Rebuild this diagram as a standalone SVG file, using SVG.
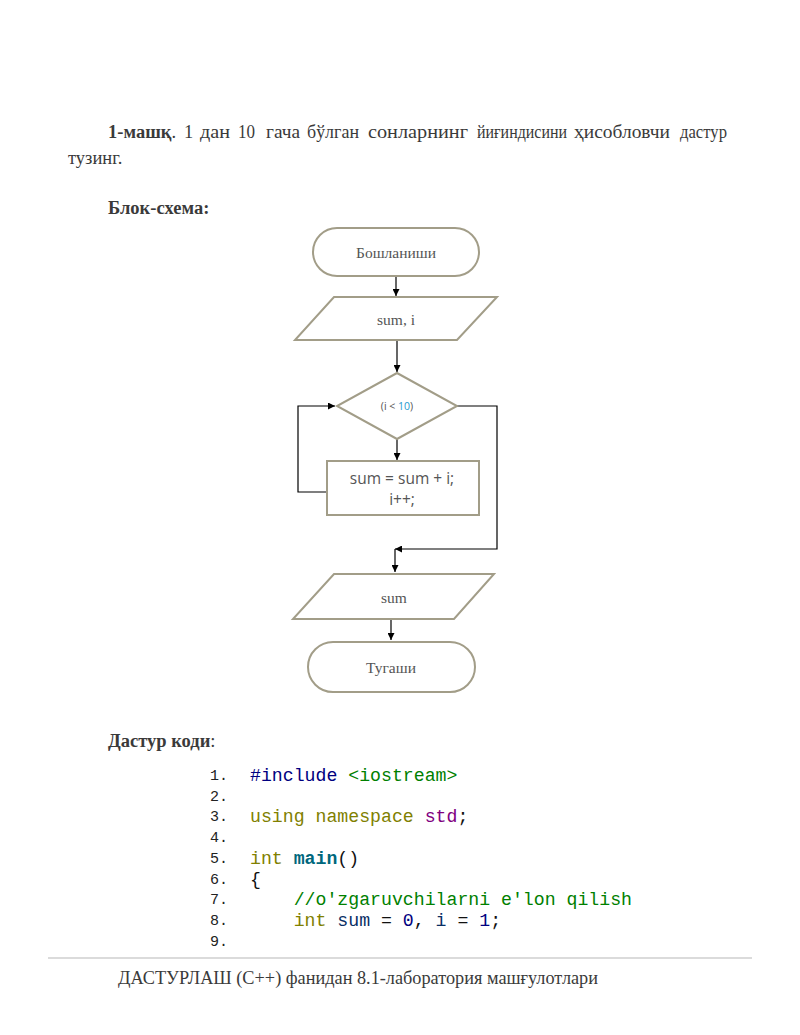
<svg xmlns="http://www.w3.org/2000/svg" width="800" height="1035" viewBox="0 0 800 1035">
<defs>
<marker id="ah" viewBox="0 0 10 10" refX="10" refY="5" markerWidth="7" markerHeight="7" markerUnits="userSpaceOnUse" orient="auto"><path d="M0,0 L10,5 L0,10 z" fill="#000"/></marker>
<style>
.body{font-family:"Liberation Serif","Times New Roman",serif;font-size:18.5px;fill:#3a3a3a}
.b{font-weight:bold}
.shape{fill:#fff;stroke:#a29d88;stroke-width:2}
.lbl{font-family:"Liberation Serif","Times New Roman",serif;font-size:15.5px;fill:#555;text-anchor:middle}
.sans{font-family:"Open Sans","DejaVu Sans",sans-serif;fill:#555;text-anchor:middle}
.conn{fill:none;stroke:#000;stroke-width:1.2}
.num{font-family:"Liberation Mono","Courier New",monospace;font-size:15px;fill:#222}
.code{font-family:"Liberation Mono","Courier New",monospace;font-size:18.2px;fill:#111;white-space:pre}
</style>
</defs>
<rect width="800" height="1035" fill="#fff"/>

<g id="intro">
<text class="body" x="108" y="138" font-size="18"><tspan class="b">1-машқ</tspan>.</text>
<text class="body" x="184" y="138">1</text>
<text class="body" x="200" y="138" textLength="30" lengthAdjust="spacingAndGlyphs">дан</text>
<text class="body" x="238" y="138" textLength="17" lengthAdjust="spacingAndGlyphs">10</text>
<text class="body" x="266" y="138" textLength="34" lengthAdjust="spacingAndGlyphs">гача</text>
<text class="body" x="307" y="138" textLength="52" lengthAdjust="spacingAndGlyphs">бўлган</text>
<text class="body" x="368" y="138" textLength="100" lengthAdjust="spacingAndGlyphs">сонларнинг</text>
<text class="body" x="477" y="138" textLength="90" lengthAdjust="spacingAndGlyphs">йиғиндисини</text>
<text class="body" x="574" y="138" textLength="96" lengthAdjust="spacingAndGlyphs">ҳисобловчи</text>
<text class="body" x="680" y="138" textLength="47" lengthAdjust="spacingAndGlyphs">дастур</text>
<text class="body" x="68" y="164">тузинг.</text>
<text class="body b" x="108" y="214">Блок-схема:</text>
</g>

<g id="connectors">
<path class="conn" d="M396,276 V296" marker-end="url(#ah)"/>
<path class="conn" d="M397,341 V372" marker-end="url(#ah)"/>
<path class="conn" d="M397,439 V460" marker-end="url(#ah)"/>
<path class="conn" d="M327,492 H298 V406 H335" marker-end="url(#ah)"/>
<path class="conn" d="M457,406 H497 V549 H395" marker-end="url(#ah)"/>
<path class="conn" d="M395,549 V572" marker-end="url(#ah)"/>
<path class="conn" d="M391,620 V640" marker-end="url(#ah)"/>
</g>

<g id="start">
<rect class="shape" x="313" y="228" width="166" height="48" rx="24"/>
<text class="lbl" x="396" y="258">Бошланиши</text>
</g>
<g id="input">
<polygon class="shape" points="334,297 497,297 457,340 295,340"/>
<text class="lbl" x="396" y="325">sum, i</text>
</g>
<g id="cond">
<polygon class="shape" points="397,373 457,406 397,439 337,406"/>
<text class="sans" x="397" y="410" font-size="10.5" fill="#333">(i &lt; <tspan fill="#1e9ad0">10</tspan>)</text>
</g>
<g id="body">
<rect class="shape" x="327" y="461" width="152" height="54"/>
<text class="sans" x="402" y="484" font-size="15.5">sum = sum + i;</text>
<text class="sans" x="402" y="505" font-size="15.5">i++;</text>
</g>
<g id="output">
<polygon class="shape" points="334,574 494,574 454,619 293,619"/>
<text class="lbl" x="394" y="603">sum</text>
</g>
<g id="end">
<rect class="shape" x="308" y="642" width="167" height="50" rx="25"/>
<text class="lbl" x="391" y="673">Тугаши</text>
</g>

<g id="code">
<text class="body" x="108" y="747"><tspan class="b">Дастур коди</tspan>:</text>
<text class="num" x="210" y="780">1.</text>
<text class="num" x="210" y="801">2.</text>
<text class="num" x="210" y="821">3.</text>
<text class="num" x="210" y="842">4.</text>
<text class="num" x="210" y="863">5.</text>
<text class="num" x="210" y="884">6.</text>
<text class="num" x="210" y="904">7.</text>
<text class="num" x="210" y="925">8.</text>
<text class="num" x="210" y="946">9.</text>
<text class="code" x="250" y="781"><tspan fill="#000080">#include</tspan> <tspan fill="#008000">&lt;iostream&gt;</tspan></text>
<text class="code" x="250" y="822"><tspan fill="#808000">using namespace</tspan> <tspan fill="#800080">std</tspan>;</text>
<text class="code" x="250" y="864"><tspan fill="#808000">int</tspan> <tspan fill="#00677c" font-weight="bold">main</tspan>()</text>
<text class="code" x="250" y="885">{</text>
<text class="code" x="250" y="905">    <tspan fill="#008000">//o'zgaruvchilarni e'lon qilish</tspan></text>
<text class="code" x="250" y="926">    <tspan fill="#808000">int</tspan> <tspan fill="#092e64">sum</tspan> = <tspan fill="#000080">0</tspan>, <tspan fill="#092e64">i</tspan> = <tspan fill="#000080">1</tspan>;</text>
</g>

<g id="footer">
<line x1="48" y1="958" x2="752" y2="958" stroke="#cfcfcf" stroke-width="1.5"/>
<text class="body" x="118" y="984" textLength="480" lengthAdjust="spacingAndGlyphs">ДАСТУРЛАШ (C++) фанидан 8.1-лаборатория машғулотлари</text>
</g>
</svg>
